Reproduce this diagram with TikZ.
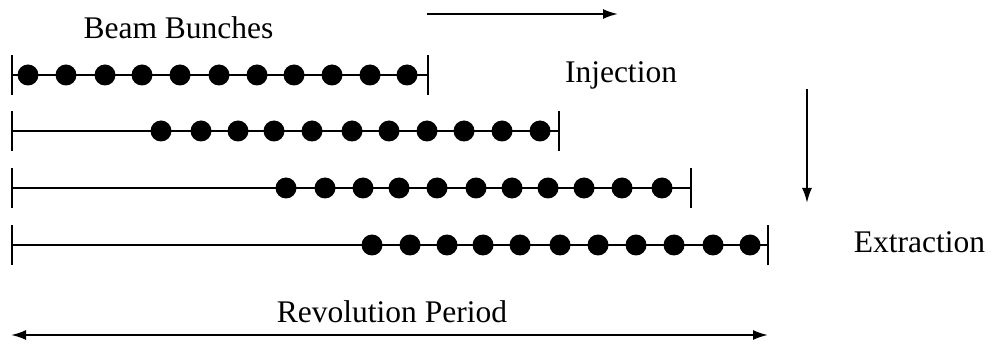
\documentclass[tikz,border=0pt]{standalone}
\usepackage{fontspec}
\setmainfont{Liberation Serif}
\usetikzlibrary{arrows.meta}
\begin{document}
\begin{tikzpicture}[x=1pt,y=-1pt,
  line width=2pt,
  bunch/.style={circle,fill=black,inner sep=0pt,minimum size=21pt},
  lbl/.style={anchor=base,inner sep=0pt,font=\fontsize{31.5}{36}\selectfont},
  arr/.style={-{Latex[length=15pt,width=10pt]}},
  darr/.style={{Latex[length=15pt,width=10pt]}-{Latex[length=15pt,width=10pt]}}]
\useasboundingbox (0,0) rectangle (995,347);
% rows: index / y / right end / dot positions
\foreach \r/\y/\e/\xs in {
  1/75/428/{28,66,105,142,180,219,257,294,332,370,407},
  2/131/559/{161,201,238,274,312,352,389,427,464,502,540},
  3/188/691/{286,325,363,399,437,476,512,548,584,622,662},
  4/245/768/{372,410,447,483,520,560,598,636,674,713,750}}{
  \coordinate (L\r) at (12,\y);
  \coordinate (R\r) at (\e,\y);
  \draw (L\r) -- (R\r);
  \draw ([yshift=-20pt]L\r) -- ([yshift=20pt]L\r);
  \draw ([yshift=-20pt]R\r) -- ([yshift=20pt]R\r);
  \foreach \x [count=\i] in \xs {
    \node[bunch] (r\r d\i) at (\x,\y) {};
  }
}
\node[lbl] (bb) at (178.5,39) {Beam Bunches};
\node[lbl] (inj) at (621,83) {Injection};
\node[lbl] (ext) at (919.5,252) {Extraction};
\node[lbl] (rev) at (392,322) {Revolution Period};
\coordinate (ta) at (427,14);
\coordinate (tb) at (618,14);
\draw[arr] (ta) -- (tb);
\coordinate (va) at (807,89);
\coordinate (vb) at (807,203);
\draw[arr] (va) -- (vb);
\coordinate (ba) at (11,335);
\coordinate (bb2) at (768,335);
\draw[darr] (ba) -- (bb2);
\end{tikzpicture}
\end{document}
